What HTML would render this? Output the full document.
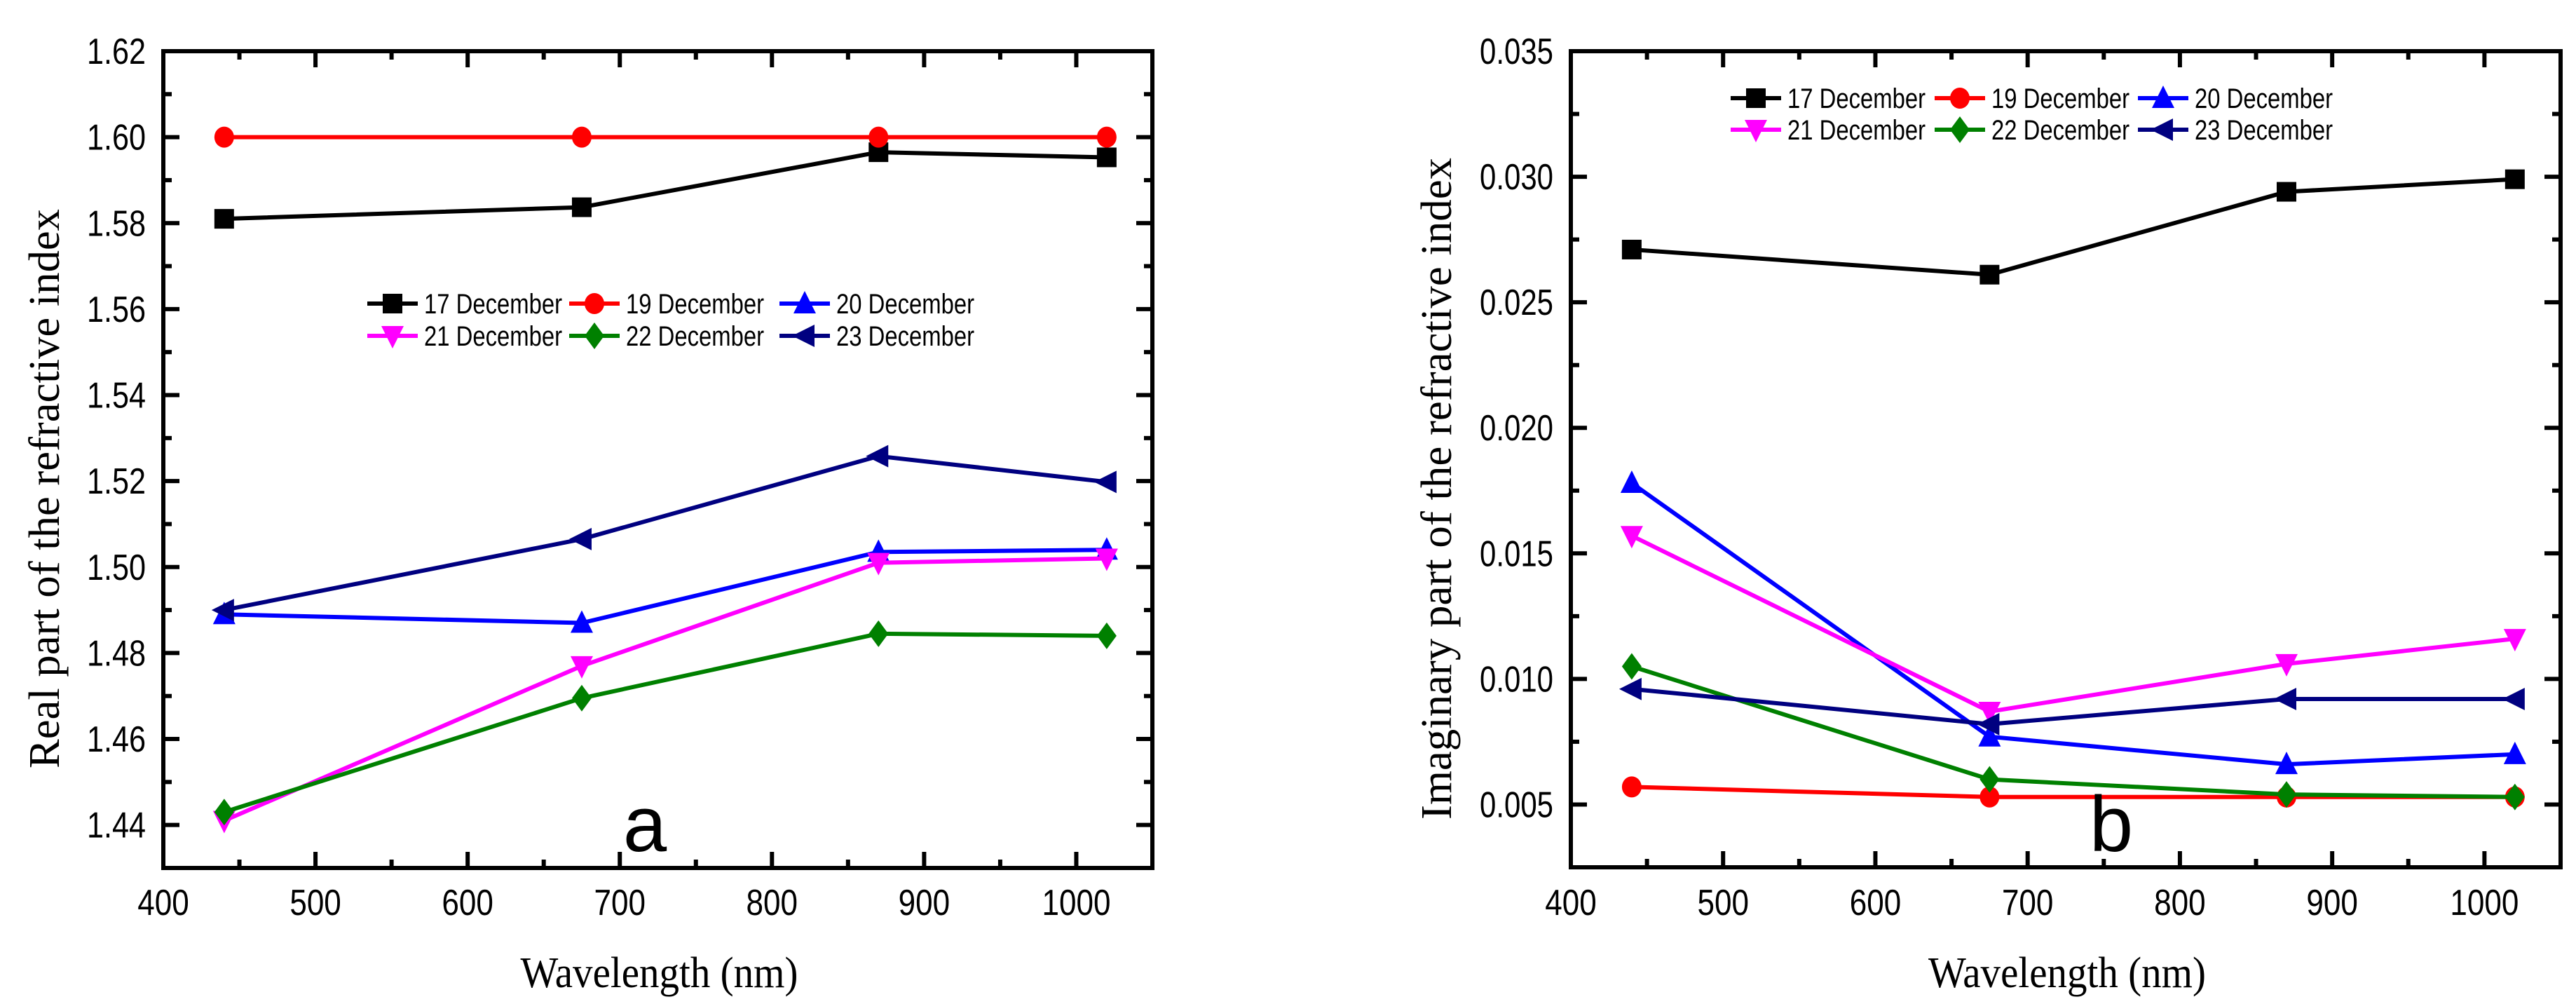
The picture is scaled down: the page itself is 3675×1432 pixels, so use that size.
<!DOCTYPE html>
<html><head><meta charset="utf-8"><style>
html,body{margin:0;padding:0;background:#fff;}
svg{display:block;}
</style></head><body>
<svg id="chart" width="3675" height="1432" xmlns="http://www.w3.org/2000/svg"></svg>
<script>
const wavelengths = [440, 675, 870, 1020];
const seriesNames = ["17 December","19 December","20 December","21 December","22 December","23 December"];
const seriesColors = ["#000000","#ff0000","#0000ff","#ff00ff","#008000","#000080"];
const seriesMarkers = ["square","circle","up","down","diamond","left"];
const realD17 = [1.581, 1.5837, 1.5965, 1.5953];
const realD19 = [1.600, 1.600, 1.600, 1.600];
const realD20 = [1.489, 1.487, 1.5035, 1.504];
const realD21 = [1.441, 1.477, 1.501, 1.502];
const realD22 = [1.443, 1.4695, 1.4845, 1.484];
const realD23 = [1.490, 1.5065, 1.5258, 1.5198];
const imagD17 = [0.0271, 0.0261, 0.0294, 0.0299];
const imagD19 = [0.0057, 0.0053, 0.0053, 0.0053];
const imagD20 = [0.0178, 0.0077, 0.0066, 0.0070];
const imagD21 = [0.0157, 0.0087, 0.0106, 0.0116];
const imagD22 = [0.0105, 0.0060, 0.0054, 0.0053];
const imagD23 = [0.0096, 0.0082, 0.0092, 0.0092];
const xTickLabels = ["400","500","600","700","800","900","1000"];
const realTickLabels = ["1.44","1.46","1.48","1.50","1.52","1.54","1.56","1.58","1.60","1.62"];
const imagTickLabels = ["0.005","0.010","0.015","0.020","0.025","0.030","0.035"];

const NS="http://www.w3.org/2000/svg";
const svg=document.getElementById('chart');
function mk(tag,attrs,parent){const e=document.createElementNS(NS,tag);for(const k in attrs)e.setAttribute(k,attrs[k]);(parent||svg).appendChild(e);return e;}

function marker(g,type,cx,cy,color){
  const s=14;let e;
  if(type==="square"){e=mk('rect',{x:cx-s,y:cy-s,width:2*s,height:2*s,fill:color},g);}
  else if(type==="circle"){e=mk('ellipse',{cx:cx,cy:cy,rx:s,ry:s+1,fill:color},g);}
  else if(type==="up"){e=mk('polygon',{points:`${cx},${cy-s-4} ${cx+s+2},${cy+s} ${cx-s-2},${cy+s}`,fill:color},g);}
  else if(type==="down"){e=mk('polygon',{points:`${cx},${cy+s+4} ${cx+s+2},${cy-s} ${cx-s-2},${cy-s}`,fill:color},g);}
  else if(type==="diamond"){e=mk('polygon',{points:`${cx},${cy-s-5} ${cx+s},${cy} ${cx},${cy+s+5} ${cx-s},${cy}`,fill:color},g);}
  else {e=mk('polygon',{points:`${cx-s-4},${cy} ${cx+s},${cy-s-2} ${cx+s},${cy+s+2}`,fill:color},g);}
  
  
}

function panel(cfg){
  const g=mk('g',{});
  
  
  const L=cfg.left,R=cfg.right,T=cfg.top,B=cfg.bottom;
  const xs=v=>L+(v-400)/(1050-400)*(R-L);
  const ys=v=>B-(v-cfg.ymin)/(cfg.ymax-cfg.ymin)*(B-T);
  const tg=mk('g',{stroke:'#000','stroke-width':6},g);
  for(let v=400;v<=1050;v+=50){
    const len=(v%100===0)?23:12;const x=xs(v);
    mk('line',{x1:x,y1:B,x2:x,y2:B-len},tg);
    mk('line',{x1:x,y1:T,x2:x,y2:T+len},tg);
  }
  const nMinor=Math.round((cfg.ymax-cfg.ymin)/cfg.minor);
  for(let i=0;i<=nMinor;i++){
    const v=cfg.ymin+i*cfg.minor;const y=ys(v);
    const rel=(v-cfg.majorStart)/cfg.major;const isMaj=Math.abs(rel-Math.round(rel))<1e-6;
    const len=isMaj?23:12;
    mk('line',{x1:L,y1:y,x2:L+len,y2:y},tg);
    mk('line',{x1:R,y1:y,x2:R-len,y2:y},tg);
  }
  const frame=mk('rect',{x:L,y:T,width:R-L,height:B-T,fill:'none',stroke:'#000','stroke-width':6},g);
  
  
  xTickLabels.forEach(t=>{
    const e=mk('text',{x:xs(+t),y:1305,'text-anchor':'middle','font-family':'Liberation Sans, sans-serif','font-size':52,textLength:t.length*24.5,lengthAdjust:'spacingAndGlyphs'},g);
    e.textContent=t;
    
    
  });
  cfg.ylabels.forEach(t=>{
    const e=mk('text',{x:L-25,y:ys(+t)+18,'text-anchor':'end','font-family':'Liberation Sans, sans-serif','font-size':52,textLength:t.length*21,lengthAdjust:'spacingAndGlyphs'},g);
    e.textContent=t;
    
    
  });
  cfg.data.forEach((vals,si)=>{
    const sg=mk('g',{},g);
    
    
    const pts=vals.map((v,i)=>xs(wavelengths[i])+','+ys(v)).join(' ');
    const pl=mk('polyline',{points:pts,fill:'none',stroke:seriesColors[si],'stroke-width':6,'stroke-linejoin':'round'},sg);
    
    
    vals.forEach((v,i)=>marker(sg,seriesMarkers[si],xs(wavelengths[i]),ys(v),seriesColors[si]));
  });
  const lg=mk('g',{},g);
  
  
  seriesNames.forEach((n,i)=>{
    const col=i%3,row=Math.floor(i/3);
    const lx=cfg.legX[col],ly=cfg.legY[row];
    const eg=mk('g',{},lg);
    
    
    mk('line',{x1:lx,y1:ly,x2:lx+72,y2:ly,stroke:seriesColors[i],'stroke-width':6},eg);
    marker(eg,seriesMarkers[i],lx+36,ly,seriesColors[i]);
    const t=mk('text',{x:lx+81,y:ly+14,'font-family':'Liberation Sans, sans-serif','font-size':40,textLength:197,lengthAdjust:'spacingAndGlyphs'},eg);
    t.textContent=n;
  });
  const xt=mk('text',{x:(L+R)/2+2,y:1408,'text-anchor':'middle','font-family':'Liberation Serif, serif','font-size':62,textLength:396,lengthAdjust:'spacingAndGlyphs'},g);
  xt.textContent='Wavelength (nm)';
  
  
  const yt=mk('text',{x:0,y:0,'text-anchor':'middle','font-family':'Liberation Serif, serif','font-size':62,textLength:cfg.ytitleLen,lengthAdjust:'spacingAndGlyphs',transform:`translate(${cfg.ytitleX},697) rotate(-90)`},g);
  yt.textContent=cfg.ytitle;
  
  
  const pl=mk('text',{x:cfg.letterX,y:1214,'text-anchor':'middle','font-family':'Liberation Sans, sans-serif','font-size':112},g);
  pl.textContent=cfg.letter;
  
  
}

panel({name:'panel-a-real-part',left:233,right:1644,top:73,bottom:1238,ymin:1.43,ymax:1.62,major:0.02,minor:0.01,majorStart:1.44,
  ylabels:realTickLabels,data:[realD17,realD19,realD20,realD21,realD22,realD23],
  legX:[524,812,1112],legY:[433,479],ytitle:'Real part of the refractive index',ytitleX:84,ytitleLen:798,letter:'a',letterX:920});
panel({name:'panel-b-imaginary-part',left:2241,right:3653,top:73,bottom:1237,ymin:0.0025,ymax:0.035,major:0.005,minor:0.0025,majorStart:0.005,
  ylabels:imagTickLabels,data:[imagD17,imagD19,imagD20,imagD21,imagD22,imagD23],
  legX:[2469,2760,3050],legY:[140,185],ytitle:'Imaginary part of the refractive index',ytitleX:2070,ytitleLen:944,letter:'b',letterX:3012});
</script>
</body></html>
